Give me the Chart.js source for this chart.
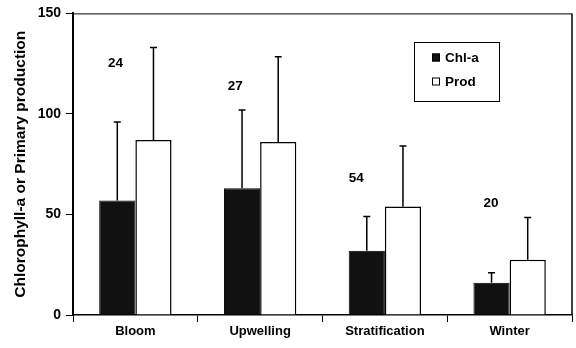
<!DOCTYPE html>
<html>
<head>
<meta charset="utf-8">
<script src="https://cdn.jsdelivr.net/npm/chart.js@4/dist/chart.umd.min.js"></script>
<style>
  html, body { margin: 0; padding: 0; background: #fff; }
  #wrap { width: 576px; height: 348px; position: relative; }
</style>
</head>
<body>
<div id="wrap"><canvas id="c"></canvas></div>
<script>
// ---- data ----
const categories = ['Bloom', 'Upwelling', 'Stratification', 'Winter'];
const chlaValues = [57, 63, 32, 16];
const chlaUpper  = [96, 102, 49, 21];
const prodValues = [87, 86, 54, 27.5];
const prodUpper  = [133, 128.5, 84, 48.5];
const sampleSizes = ['24', '27', '54', '20'];
const yTicks = [0, 50, 100, 150];

// annotation placement (category-index offset, value)
const sampleLabelX = [-0.16, -0.2, -0.23, -0.15];
const sampleLabelY = [125, 114, 68, 55.5];

const FONT = '"Liberation Sans", Arial, sans-serif';

const errorBars = {
  id: 'errorBars',
  afterDatasetsDraw(chart) {
    const ctx = chart.ctx;
    const y = chart.scales.y;
    ctx.save();
    ctx.strokeStyle = '#000';
    ctx.lineWidth = 1.5;
    chart.data.datasets.forEach((ds, di) => {
      const meta = chart.getDatasetMeta(di);
      meta.data.forEach((el, i) => {
        const top = y.getPixelForValue(ds.upper[i]);
        ctx.beginPath();
        ctx.moveTo(el.x, el.y);
        ctx.lineTo(el.x, top);
        ctx.moveTo(el.x - 3.5, top);
        ctx.lineTo(el.x + 3.5, top);
        ctx.stroke();
      });
    });
    ctx.restore();
  }
};

const extras = {
  id: 'extras',
  afterDraw(chart) {
    const ctx = chart.ctx;
    const a = chart.chartArea;
    const x = chart.scales.x, y = chart.scales.y;
    ctx.save();
    // frame top and right
    ctx.strokeStyle = '#000';
    ctx.lineWidth = 1;
    ctx.beginPath();
    ctx.moveTo(a.left, a.top + 0.5);
    ctx.lineTo(a.right, a.top + 0.5);
    ctx.stroke();
    ctx.lineWidth = 1.5;
    ctx.beginPath();
    ctx.moveTo(a.right, a.top);
    ctx.lineTo(a.right, a.bottom);
    ctx.stroke();
    // sample size labels
    ctx.fillStyle = '#000';
    ctx.font = 'bold 13.5px ' + FONT;
    ctx.textAlign = 'center';
    ctx.textBaseline = 'middle';
    const cw = x.getPixelForValue(1) - x.getPixelForValue(0);
    sampleSizes.forEach((s, i) => {
      ctx.fillText(s, x.getPixelForValue(i) + sampleLabelX[i] * cw, y.getPixelForValue(sampleLabelY[i]));
    });
    // legend
    const lx = 414, ly = 42, lw = 85, lh = 59;
    ctx.lineWidth = 1;
    ctx.strokeStyle = '#000';
    ctx.strokeRect(lx + 0.5, ly + 0.5, lw, lh);
    ctx.textAlign = 'left';
    ctx.font = 'bold 13.5px ' + FONT;
    chart.data.datasets.forEach((ds, i) => {
      const cy = ly + 15.5 + i * 24;
      ctx.fillStyle = ds.backgroundColor;
      ctx.fillRect(432, cy - 4, 8, 8);
      ctx.strokeStyle = '#000';
      ctx.strokeRect(432.5, cy - 3.5, 7, 7);
      ctx.fillStyle = '#000';
      ctx.fillText(ds.label, 445, cy + 0.5);
    });
    ctx.restore();
  }
};

new Chart(document.getElementById('c'), {
  type: 'bar',
  data: {
    labels: categories,
    datasets: [
      { label: 'Chl-a', data: chlaValues, upper: chlaUpper, backgroundColor: '#111111',
        borderColor: '#000', borderWidth: 1 },
      { label: 'Prod', data: prodValues, upper: prodUpper, backgroundColor: '#ffffff',
        borderColor: '#000', borderWidth: 1.5 }
    ]
  },
  options: {
    responsive: true,
    maintainAspectRatio: false,
    animation: false,
    layout: { padding: { top: 12, right: 4, left: 0, bottom: 0 } },
    datasets: { bar: { categoryPercentage: 0.58, barPercentage: 1.0 } },
    plugins: {
      legend: { display: false },
      tooltip: { enabled: false }
    },
    scales: {
      x: {
        grid: { offset: true, drawOnChartArea: false, drawTicks: true, tickLength: 7, color: '#000', lineWidth: 1 },
        border: { display: true, color: '#000', width: 1.5 },
        ticks: { color: '#000', font: { family: FONT, size: 13, weight: 'bold' }, padding: 2 },
        afterFit(s) { s.height = 33; }
      },
      y: {
        min: 0, max: 150,
        afterBuildTicks(s) { s.ticks = yTicks.map(v => ({ value: v })); },
        grid: { drawOnChartArea: false, drawTicks: true, tickLength: 7, color: '#000', lineWidth: 1 },
        border: { display: true, color: '#000', width: 2 },
        ticks: { color: '#000', font: { family: FONT, size: 14, weight: 'bold' }, padding: 5 },
        title: {
          display: true,
          text: 'Chlorophyll-a or Primary production',
          color: '#000',
          font: { family: FONT, size: 15.5, weight: 'bold' },
          padding: { top: 11, bottom: 0 }
        },
        afterFit(s) { s.width = 73; }
      }
    }
  },
  plugins: [errorBars, extras]
});
</script>
</body>
</html>
